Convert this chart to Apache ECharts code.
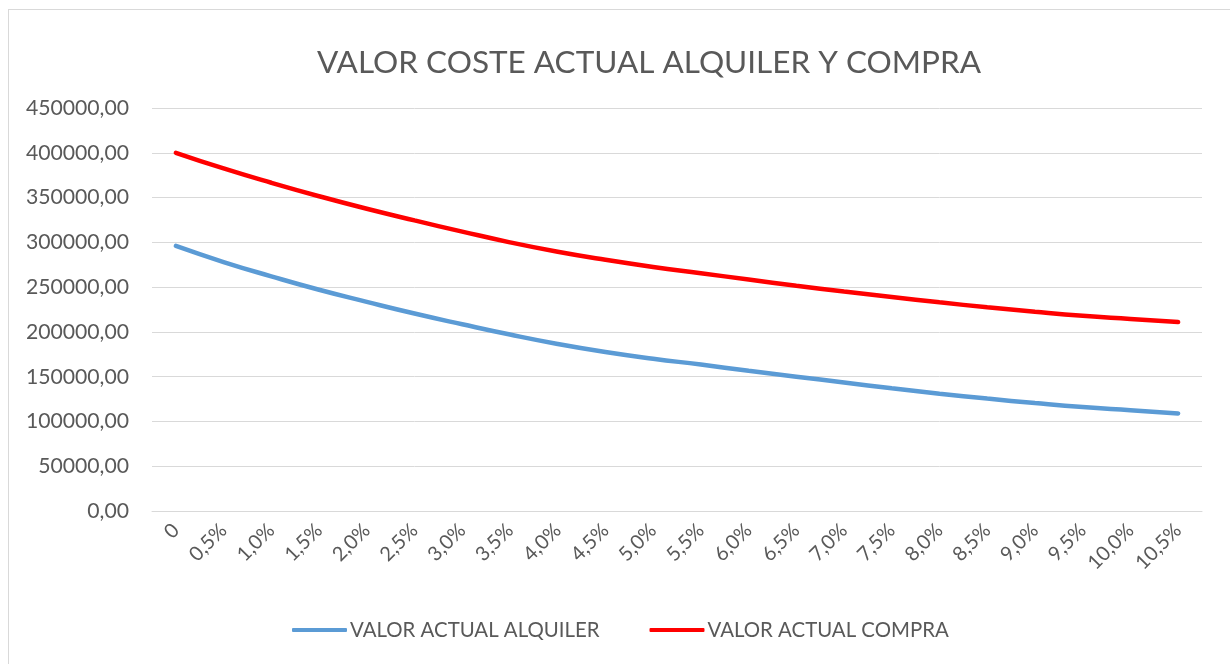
<!DOCTYPE html>
<html>

<head>
    <meta charset="utf-8">
    <title>ECharts</title>
    <script src="https://cdn.jsdelivr.net/npm/echarts@6/dist/echarts.min.js"></script>
    <style>
        body { margin: 0; background: #fff; overflow: hidden; }
        #frame { position: absolute; left: 8px; top: 9px; width: 1240px; height: 680px; border: 1px solid #d9d9d9; }
        #main { position: absolute; left: -9px; top: -10px; width: 1230px; height: 664px; }
    </style>
</head>

<body>
    <div id="frame"><div id="main"></div></div>
    <script type="text/javascript">
        // categorias (tipo de interés)
        const categorias = ['0', '0,5%', '1,0%', '1,5%', '2,0%', '2,5%', '3,0%', '3,5%', '4,0%', '4,5%', '5,0%',
            '5,5%', '6,0%', '6,5%', '7,0%', '7,5%', '8,0%', '8,5%', '9,0%', '9,5%', '10,0%', '10,5%'];
        // valores
        const alquiler = [296000, 278000, 262000, 247000, 233500, 220500, 208500, 197000, 186500, 177500, 170000,
            163500, 156500, 150000, 143500, 137000, 131000, 125500, 120500, 116000, 112500, 109000];
        const compra = [400000, 382500, 366500, 351500, 337500, 324500, 312000, 300000, 289500, 280500, 272500,
            265500, 258500, 251500, 245000, 239000, 233000, 227500, 222500, 218000, 214500, 211000];
        const yMin = 0, yMax = 450000, yStep = 50000;

        let myChart = echarts.init(document.getElementById('main'));

        let option = {
            animation: false,
            textStyle: { fontFamily: 'Lato' },
            title: {
                text: 'VALOR COSTE ACTUAL ALQUILER Y COMPRA',
                left: 312,
                top: 42,
                textStyle: { color: '#595959', fontSize: 31.5, fontWeight: 'normal', fontFamily: 'Lato' }
            },
            legend: {
                top: 615,
                left: 287,
                itemWidth: 55,
                itemHeight: 4,
                itemGap: 50,
                icon: 'roundRect',
                textStyle: { color: '#595959', fontSize: 20.4, fontFamily: 'Lato', padding: [0, 0, 0, -2] },
                data: ['VALOR ACTUAL ALQUILER', 'VALOR ACTUAL COMPRA']
            },
            grid: {
                left: 152,
                right: 28,
                top: 108,
                bottom: 153,
                containLabel: false
            },
            xAxis: {
                type: 'category',
                data: categorias,
                boundaryGap: true,
                axisLine: { lineStyle: { color: '#d9d9d9', width: 1 } },
                axisTick: { show: false },
                axisLabel: { rotate: 45, color: '#595959', fontSize: 20, margin: 16, interval: 0 }
            },
            yAxis: {
                type: 'value',
                min: yMin,
                max: yMax,
                interval: yStep,
                axisLine: { show: false },
                axisTick: { show: false },
                splitLine: { lineStyle: { color: '#d9d9d9', width: 1 } },
                axisLabel: {
                    color: '#595959', fontSize: 21.2, margin: 23,
                    formatter: function (v) { return v + ',00'; }
                }
            },
            series: [
                {
                    name: 'VALOR ACTUAL ALQUILER',
                    type: 'line',
                    data: alquiler,
                    smooth: true,
                    showSymbol: false,
                    color: '#5b9bd5',
                    lineStyle: { width: 4.5, cap: 'round' }
                },
                {
                    name: 'VALOR ACTUAL COMPRA',
                    type: 'line',
                    data: compra,
                    smooth: true,
                    showSymbol: false,
                    color: '#ff0000',
                    lineStyle: { width: 4.5, cap: 'round' }
                }
            ]
        };

        myChart.setOption(option);
    </script>
</body>

</html>
